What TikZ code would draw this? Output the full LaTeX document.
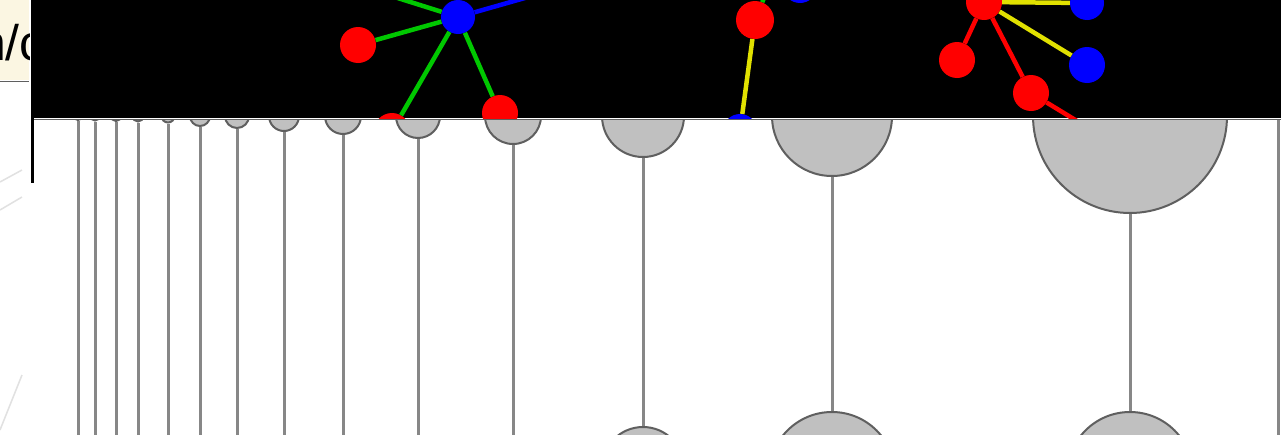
\documentclass[tikz,border=0pt]{standalone}
\usepackage{fontspec}
\setmainfont{Liberation Sans}
\usetikzlibrary{positioning}
\definecolor{atomred}{RGB}{255,0,0}
\definecolor{atomblue}{RGB}{0,0,255}
\definecolor{bondgreen}{RGB}{0,200,0}
\definecolor{bondyellow}{RGB}{225,225,0}
\definecolor{capfill}{RGB}{192,192,192}
\definecolor{capline}{RGB}{95,95,95}
\definecolor{stemgray}{RGB}{135,135,135}
\definecolor{tabbeige}{RGB}{251,246,226}
\definecolor{faint}{RGB}{225,225,225}
\tikzset{
	redatom/.style={circle, fill=atomred, inner sep=0pt, minimum size=36pt},
	blueatom/.style={circle, fill=atomblue, inner sep=0pt, minimum size=34pt},
	bond/.style={line width=4.5pt},
	pendcap/.style={circle, fill=capfill, draw=capline, line width=2pt, inner sep=0pt},
	stem/.style={line width=3pt, draw=stemgray},
}

\begin{document}
\begin{tikzpicture}[x=1pt, y=-1pt]
	\useasboundingbox (0,0) rectangle (1281,434);
	\fill[white] (0,0) rectangle (1281,434);
	% left strip
	\begin{scope}
		\clip (0,0) rectangle (29,80);
		\fill[tabbeige] (0,0) rectangle (29,80);
		\node (tab)[anchor=base west, inner sep=0pt, font=\fontsize{50}{50}\selectfont] at (-22,60) {n/c};
	\end{scope}
	\draw[capline, line width=1.5pt] (0,81.5) -- (29,81.5);
	\draw[faint, line width=1.5pt] (0,182) -- (22,170);
	\draw[faint, line width=1.5pt] (0,210) -- (22,197);
	\draw[faint, line width=1.5pt] (0,430) -- (22,375);
	% pendants
	\begin{scope}
		\clip (34,119) rectangle (1281,434);
		\foreach \x/\r [count=\i] in {78/4, 95/4.5, 116/5, 138/5.5, 168/6.5, 200/10, 237/12, 284/15, 343/18, 418/22, 513/28, 643/41, 832/60, 1130/97} {
			\node (cap\i)[pendcap, minimum size=2*\r pt] at (\x,116) {};
			\coordinate (foot\i) at (\x,440);
		}
		\node (blob12)[pendcap, minimum size=82pt] at (643,468) {};
		\node (blob13)[pendcap, minimum size=126pt] at (832,475) {};
		\node (blob14)[pendcap, minimum size=126pt] at (1130,475) {};
		\foreach \i in {1,...,11}
			\draw[stem] (cap\i) -- (foot\i);
		\draw[stem] (cap12) -- (blob12);
		\draw[stem] (cap13) -- (blob13);
		\draw[stem] (cap14) -- (blob14);
		\coordinate (top15) at (1278,120);
		\coordinate (foot15) at (1278,440);
		\draw[stem] (top15) -- (foot15);
	\end{scope}
	\draw[capline, line width=1.5pt] (34,119.5) -- (1281,119.5);
	% molecule panel
	\fill[black] (31,0) rectangle (1281,118);
	\fill[black] (31,118) rectangle (34,183);
	\begin{scope}
		\clip (31,0) rectangle (1281,118);
		\node (b1)[blueatom] at (458,17) {};
		\node (r1)[redatom] at (358,45) {};
		\node (r2)[redatom] at (500,113) {};
		\node (r3)[redatom] at (392,131) {};
		\coordinate (c1) at (385,-6);
		\coordinate (c2) at (560,-12);
		\draw[bond, bondgreen] (b1) -- (r1);
		\draw[bond, bondgreen] (b1) -- (r2);
		\draw[bond, bondgreen] (b1) -- (r3);
		\draw[bond, bondgreen] (b1) -- (c1);
		\draw[bond, atomblue] (b1) -- (c2);
		\node (r4)[redatom, minimum size=38pt] at (755,20) {};
		\node (b2)[blueatom] at (740,131) {};
		\node (b3)[blueatom] at (800,-14) {};
		\coordinate (c3) at (768,-12);
		\draw[bond, bondyellow] (r4) -- (b2);
		\draw[bond, bondgreen] (r4) -- (c3);
		\node (r5)[redatom] at (984,2) {};
		\node (b4)[blueatom] at (1087,3) {};
		\node (b5)[blueatom, minimum size=36pt] at (1087,65) {};
		\node (r6)[redatom] at (957,60) {};
		\node (r7)[redatom] at (1031,93) {};
		\coordinate (c4) at (1100,135);
		\draw[bond, bondyellow] (r5) -- (b4);
		\draw[bond, bondyellow] (r5) -- (b5);
		\draw[bond, atomred] (r5) -- (r6);
		\draw[bond, atomred] (r5) -- (r7);
		\draw[bond, atomred] (r7) -- (c4);
	\end{scope}
\end{tikzpicture}
\end{document}
